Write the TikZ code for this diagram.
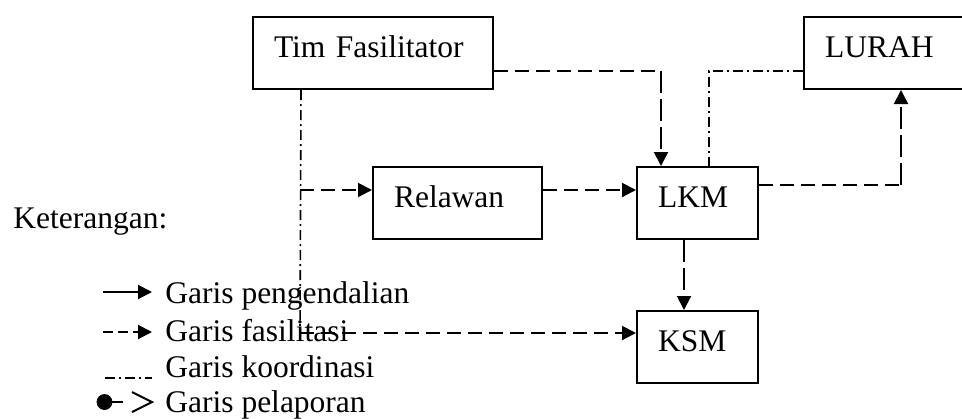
\documentclass[tikz,border=0pt]{standalone}
\usepackage{fontspec}
\setmainfont{Liberation Serif}
\usetikzlibrary{arrows.meta}

\begin{document}
\begin{tikzpicture}[x=0.5pt, y=-0.5pt, font=\fontsize{15.75}{18}\selectfont,
        kotak/.style={draw, line width=1pt, anchor=north west, inner xsep=10.5pt,
            inner ysep=0pt, text height=20pt, text depth=16pt, align=left},
        panah/.style={-{Triangle[length=7pt,width=7pt]}},
        fasil/.style={line width=1pt, dash pattern=on 7pt off 3.5pt},
        fasiltegak/.style={line width=1pt, dash pattern=on 11pt off 3pt},
        koord/.style={line width=0.8pt, dash pattern=on 5pt off 2pt on 1pt off 2pt},
        ket/.style={anchor=base west, inner sep=0pt}]
    \useasboundingbox (0,0) rectangle (962,418);
    \clip (0,0) rectangle (962,418);
    \node[kotak, text width=99pt] (tim) at (252,16) {Tim Fasilitator};
    \node[kotak, text width=76pt] (lurah) at (803,16) {LURAH};
    \node[kotak, text width=63.5pt] (relawan) at (372,166) {Relawan};
    \node[kotak, text width=39.5pt] (lkm) at (636,166) {LKM};
    \node[kotak, text width=39.5pt] (ksm) at (636,310) {KSM};
    \coordinate (cabang) at (300,190);
    \coordinate (belok) at (300,333);
    \coordinate (timkanan) at ([yshift=-9pt]tim.east);
    \coordinate (lkmatas) at ([xshift=-18.25pt]lkm.north);
    \coordinate (lkmkanan) at ([yshift=9pt]lkm.east);
    \draw[fasil] (timkanan) -- (lkmatas |- timkanan);
    \draw[fasiltegak, panah] (lkmatas |- timkanan) -- (lkmatas);
    \draw[koord] ([yshift=-9pt]lurah.west) -| ([xshift=5.75pt]lkm.north);
    \draw[fasil] (lkmkanan) -- (lurah.south |- lkmkanan);
    \draw[fasiltegak, panah] (lurah.south |- lkmkanan) -- (lurah.south);
    \draw[koord] ([xshift=-36pt]tim.south) -- (belok);
    \draw[fasil, panah] (cabang) -- (cabang -| relawan.west);
    \draw[fasil, panah] (cabang -| relawan.east) -- (cabang -| lkm.west);
    \draw[fasiltegak, panah] ([xshift=-6.75pt]lkm.south) -- ([xshift=-6.75pt]ksm.north);
    \draw[fasil, panah] (belok) -- (belok -| ksm.west);
    \node[ket] (keterangan) at (13,228) {Keterangan:};
    \node[ket] (ket1) at (165,303) {Garis pengendalian};
    \node[ket] (ket2) at (165,341) {Garis fasilitasi};
    \node[ket] (ket3) at (165,377) {Garis koordinasi};
    \node[ket] (ket4) at (165,412) {Garis pelaporan};
    \draw[line width=1pt, panah] (103,292) -- (152,292);
    \draw[line width=1pt, dash pattern=on 5pt off 2.5pt, panah] (103,332) -- (152,332);
    \draw[koord] (105,378) -- (152,378);
    \filldraw[black] (104.5,402) circle (3.75pt);
    \draw[line width=1pt] (104.5,402) -- (123,402);
    \draw[line width=1pt] (132,392) -- (152,402) -- (132,412);
\end{tikzpicture}
\end{document}
